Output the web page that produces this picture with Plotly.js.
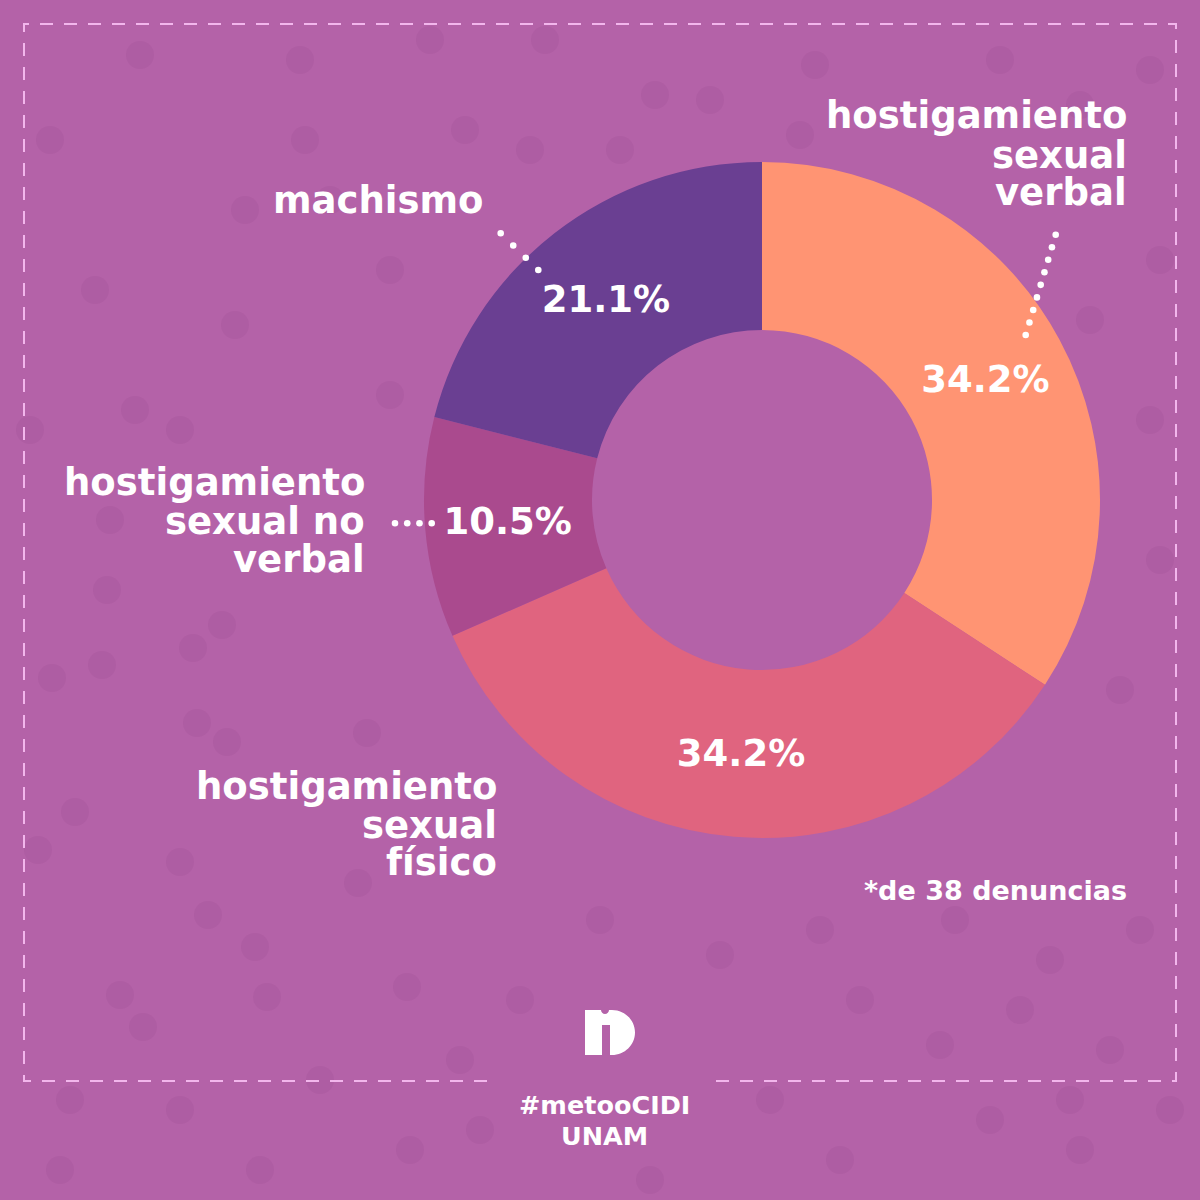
<!DOCTYPE html>
<html>
<head>
<meta charset="utf-8">
<script src="https://cdn.plot.ly/plotly-3.0.1.min.js"></script>
<style>html,body{margin:0;padding:0;background:#B462A8;}#chart{width:1200px;height:1200px;}</style>
</head>
<body>
<div id="chart"></div>
<script>
// ---- data ----
const categories = ["hostigamiento sexual verbal", "hostigamiento sexual físico", "hostigamiento sexual no verbal", "machismo"];
const counts = [13, 13, 4, 8];           // of 38 complaints
const sliceColors = ["#FF9473", "#E0647F", "#AA4A8E", "#6A3F92"];
const labelLines = [
  ["hostigamiento", "sexual", "verbal"],
  ["hostigamiento", "sexual", "físico"],
  ["hostigamiento", "sexual no", "verbal"],
  ["machismo"]
];
const footnote = "*de 38 denuncias";
const hashtag = "#metooCIDI";
const org = "UNAM";

// ---- styles / layout ----
const BG = "#B462A8";
const FONT = "'DejaVu Sans', sans-serif";
const cx = 762, cy = 500, R = 338;

const pie = {
  type: "pie",
  values: counts,
  labels: categories,
  sort: false,
  direction: "clockwise",
  rotation: 0,
  hole: 0.503,
  marker: {colors: sliceColors, line: {width: 0}},
  texttemplate: "%{percent:.1%}",
  textposition: "inside",
  insidetextorientation: "horizontal",
  insidetextfont: {family: FONT, size: 37, color: "#ffffff", weight: 700},
  showlegend: false,
  hoverinfo: "label+percent",
  domain: {x: [(cx - R) / 1200, (cx + R) / 1200], y: [(1200 - cy - R) / 1200, (1200 - cy + R) / 1200]}
};
const dummy = {type: "scatter", x: [], y: [], xaxis: "x", yaxis: "y", hoverinfo: "skip", showlegend: false};

// background texture dots (decoration)
const bgDots = [[300,60],[430,40],[545,40],[655,95],[710,100],[815,65],[1000,60],[1150,70],[140,55],[305,140],[465,130],[530,150],[620,150],[800,135],[1080,105],[50,140],[135,410],[95,290],[235,325],[180,430],[30,430],[110,520],[52,678],[102,665],[107,590],[222,625],[193,648],[197,723],[227,742],[367,733],[75,812],[38,850],[180,862],[358,883],[208,915],[255,947],[120,995],[267,997],[407,987],[143,1027],[390,270],[330,200],[245,210],[390,395],[600,920],[720,955],[820,930],[955,920],[1050,960],[1140,930],[1120,690],[1160,560],[1150,420],[1160,260],[1090,320],[860,1000],[940,1045],[1020,1010],[1110,1050],[460,1060],[520,1000],[70,1100],[180,1110],[260,1170],[410,1150],[770,1100],[840,1160],[990,1120],[1080,1150],[1170,1110],[320,1080],[1070,1100],[480,1130],[60,1170],[650,1180]];
const shapes = [];
bgDots.forEach(function(p){
  shapes.push({type: "circle", xref: "x", yref: "y", x0: p[0]-14, x1: p[0]+14, y0: p[1]-14, y1: p[1]+14,
    fillcolor: "rgba(140,60,130,0.13)", line: {width: 0}, layer: "below"});
});
// dashed frame
shapes.push({type: "path", xref: "x", yref: "y", layer: "below",
  path: "M487,1081 L24,1081 L24,24 L1176,24 L1176,1081 L713,1081",
  line: {color: "#F2B6EC", width: 2, dash: "13px,11px"}});
// leader dotted lines (decoration)
function dotted(x0, y0, x1, y1, n) {
  for (let i = 0; i < n; i++) {
    const t = n === 1 ? 0 : i / (n - 1);
    const x = x0 + (x1 - x0) * t, y = y0 + (y1 - y0) * t;
    shapes.push({type: "circle", xref: "x", yref: "y", x0: x-3.3, x1: x+3.3, y0: y-3.3, y1: y+3.3,
      fillcolor: "#ffffff", line: {width: 0}, layer: "above"});
  }
}
dotted(1055.7, 234.7, 1025.7, 335, 9);
dotted(500.7, 233.3, 538.3, 270, 4);
dotted(395, 523.3, 431.7, 523.3, 4);
// logo
shapes.push({type: "path", xref: "x", yref: "y", layer: "above", fillcolor: "#ffffff", line: {width: 0},
  path: "M585,1010 L601,1010 C601,1012.2 602.8,1014 605,1014 C607.2,1014 609,1012.2 609,1010 L612,1010 " +
        "C624.7,1010 635,1020.1 635,1032.5 C635,1044.9 624.7,1055 612,1055 L610,1055 L610,1025 L602,1025 L602,1055 L585,1055 Z"});

// labels
const annotations = [];
function label(text, x, y, size, anchor) {
  annotations.push({text: text, x: x, y: y, xref: "x", yref: "y", xanchor: anchor || "right", yanchor: "middle",
    showarrow: false, borderpad: 0, font: {family: FONT, size: size, color: "#ffffff", weight: 700}});
}
const labelPos = [
  {x: 1128, ys: [115, 155, 192]},
  {x: 498, ys: [786, 825, 862]},
  {x: 366, ys: [482, 521, 559]},
  {x: 484, ys: [200]}
];
labelLines.forEach(function(lines, i){
  lines.forEach(function(t, j){ label(t, labelPos[i].x, labelPos[i].ys[j], 37); });
});
label(footnote, 1128, 890, 27);
label(hashtag, 604, 1105, 25.5, "center");
label(org, 604, 1136, 25.5, "center");

const layout = {
  width: 1200, height: 1200,
  margin: {l: 0, r: 0, t: 0, b: 0, pad: 0},
  paper_bgcolor: BG, plot_bgcolor: "rgba(0,0,0,0)",
  xaxis: {range: [0, 1200], visible: false, fixedrange: true},
  yaxis: {range: [1200, 0], visible: false, fixedrange: true},
  showlegend: false,
  shapes: shapes,
  annotations: annotations
};
Plotly.newPlot("chart", [dummy, pie], layout, {displayModeBar: false, staticPlot: true});
</script>
</body>
</html>
